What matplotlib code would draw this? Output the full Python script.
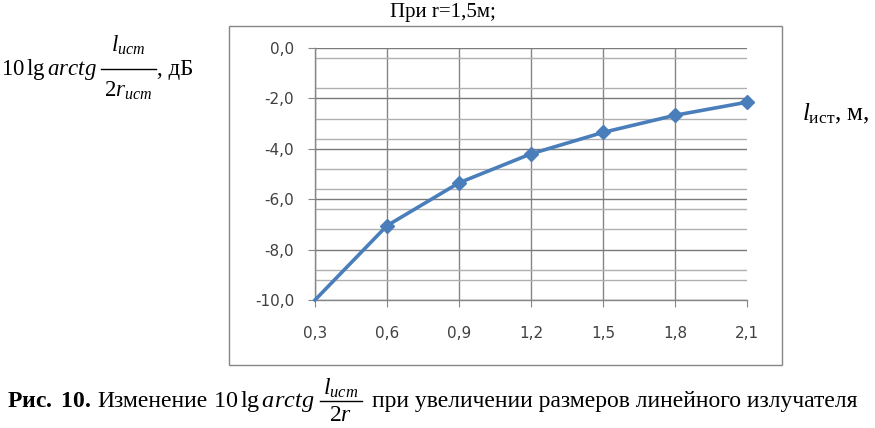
import matplotlib
matplotlib.use("Agg")
import matplotlib.pyplot as plt
from matplotlib.patches import Rectangle
from matplotlib.lines import Line2D
from matplotlib.ticker import FixedLocator, FuncFormatter

plt.rcParams['mathtext.fontset'] = 'custom'
plt.rcParams['mathtext.rm'] = 'Liberation Serif'
plt.rcParams['mathtext.it'] = 'Liberation Serif:italic'
plt.rcParams['mathtext.bf'] = 'Liberation Serif:bold'

# data
l_src = [0.3, 0.6, 0.9, 1.2, 1.5, 1.8, 2.1]
level_db = [-10.0, -7.05, -5.35, -4.2, -3.35, -2.67, -2.15]
y_major = [0, -2, -4, -6, -8, -10]
y_minor = [-0.4, -1.6, -2.8, -3.6, -4.8, -5.6, -6.4, -7.2, -8.8, -9.2]

W, H = 875, 428
GRID = '#868686'
BLUE = '#4A7EBB'
SERIF = 'Liberation Serif'


def fx(px):
    return px / W


def fy(py):
    return 1 - py / H


def comma(v, pos=None):
    return f"{v:.1f}".replace('.', ',')


fig = plt.figure(figsize=(8.75, 4.28), dpi=100)
renderer = fig.canvas.get_renderer()


def put(x, y, s, size, ha='left', **kw):
    # text placed by its left end and baseline, in pixels from the top left;
    # returns the right end in pixels
    t = fig.text(fx(x), fy(y), s, ha=ha, va='baseline', family=SERIF, fontsize=size, **kw)
    return t.get_window_extent(renderer).x1


def frac(x0, x1, y_bar, num, den, size, num_base, den_base):
    xc = (x0 + x1) / 2
    put(xc, num_base, num, size, ha='center')
    put(xc, den_base, den, size, ha='center')
    fig.add_artist(Line2D([fx(x0), fx(x1)], [fy(y_bar), fy(y_bar)],
                          transform=fig.transFigure, color='black', lw=1))
    return x1


# excel chart frame
fig.patches.append(Rectangle((fx(229), fy(365)), fx(782) - fx(229), fy(26) - fy(365),
                             transform=fig.transFigure, fill=False, edgecolor=GRID, lw=1))

ax = fig.add_axes([fx(315), fy(300), fx(747) - fx(315), fy(48) - fy(300)])
ax.plot(l_src, level_db, color=BLUE, lw=2.6, marker='D', ms=7.5,
        markevery=slice(1, None), clip_on=False, zorder=5)

ax.set_xlim(0.3, 2.1)
ax.set_ylim(-10, 0)
ax.set_xticks(l_src)
ax.xaxis.set_major_formatter(FuncFormatter(comma))
ax.yaxis.set_major_locator(FixedLocator(y_major))
ax.yaxis.set_minor_locator(FixedLocator(y_minor))
ax.yaxis.set_major_formatter(FuncFormatter(comma))

for s in ['top', 'right']:
    ax.spines[s].set_visible(False)
for s in ['left', 'bottom']:
    ax.spines[s].set_color(GRID)
    ax.spines[s].set_linewidth(1)

ax.grid(axis='x', color=GRID, lw=1)
ax.xaxis.get_gridlines()[-1].set_visible(False)
ax.grid(axis='y', which='major', color='#7a7a7a', lw=1)
ax.grid(axis='y', which='minor', color='#b0b0b0', lw=1)
ax.tick_params(axis='both', which='major', direction='out', length=5, color=GRID,
               labelsize=11, labelcolor='#404040')
ax.tick_params(axis='y', which='minor', length=0)
ax.tick_params(axis='y', pad=10)
ax.tick_params(axis='x', pad=14)
for lab in ax.get_xticklabels() + ax.get_yticklabels():
    lab.set_family('DejaVu Sans')

# title
put(443, 17, 'При r=1,5м;', 15, ha='center')

# y label (left)
x = put(1, 75, r'$10\,\mathrm{lg}\,arctg$', 16.5)
x = frac(x + 4, x + 59, 69, r'$l_{ист}$', r'$2r_{ист}$', 16.5, 52, 97)
put(x + 1, 75, ', дБ', 16.5)

# x label (right)
put(802, 120, r'$l_{\mathrm{ист}}$, м,', 18)

# caption, laid out left to right
cs = 17
x = put(7, 407, r'$\mathbf{Рис.\ 10.}$', cs)
x = put(x + 6, 407, 'Изменение', cs)
x = put(x + 6, 407, r'$10\,\mathrm{lg}\,arctg$', cs + 0.5)
x = frac(x + 5, x + 47, 401, r'$l_{ист}$', r'$2r$', cs, 395, 421)
put(x + 10, 407, 'при увеличении размеров линейного излучателя', cs)

fig.savefig('out.png', dpi=100)
